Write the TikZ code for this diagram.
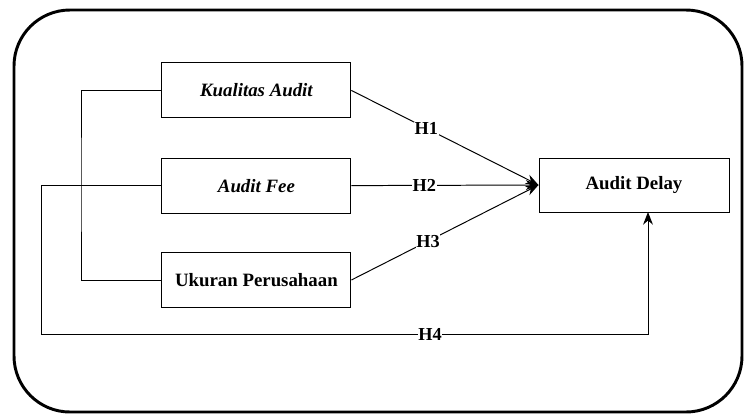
\documentclass[tikz,border=0pt]{standalone}
\usepackage{fontspec}
\setmainfont{Liberation Serif}
\usepackage{tikz}
\usetikzlibrary{positioning,arrows.meta}

\tikzset{
  varbox/.style={draw, line width=0.7pt, minimum width=4.725cm, minimum height=1.375cm,
    font=\fontsize{13.4}{16}\selectfont\bfseries},
  link/.style={line width=0.7pt},
  arr/.style={link, -{Stealth[length=9pt,width=7pt]}},
  hlabel/.style={fill=white, inner sep=0.5pt, font=\fontsize{13}{16}\selectfont\bfseries}
}

\begin{document}
\begin{tikzpicture}
  \useasboundingbox (0,0) rectangle (18.6,-10.35);
  % frame
  \draw[line width=2.1pt, rounded corners=1.4cm] (0.35,-0.25) rectangle (18.55,-10.3);
  % variables
  \node[varbox] (kual) at (6.41,-2.26) {\itshape Kualitas Audit};
  \node[varbox] (fee) at (6.41,-4.64) {\itshape Audit Fee};
  \node[varbox] (ukur) at (6.41,-7.0) {Ukuran Perusahaan};
  \node[varbox, minimum width=4.75cm, minimum height=1.35cm] (delay) at (15.85,-4.625) {Audit Delay};
  % bracket and corner points
  \coordinate (brk) at (2.025,-4.6);
  \coordinate (h4corner) at (1.025,-8.35);
  \coordinate (h4end) at (16.2,-5.3);
  \draw[link] (kual.west) -| (brk) |- (ukur.west);
  % hypotheses
  \draw[arr] (kual.east) -- node[hlabel, pos=0.4] {H1} (delay.west);
  \draw[arr] (fee.east) -- node[hlabel, pos=0.39] {H2} (delay.west);
  \draw[arr] (ukur.east) -- node[hlabel, pos=0.41] {H3} (delay.west);
  \draw[arr] (fee.west) -| (h4corner) -| (h4end);
  \node[hlabel] (h4) at (10.75,-8.35) {H4};
\end{tikzpicture}
\end{document}
